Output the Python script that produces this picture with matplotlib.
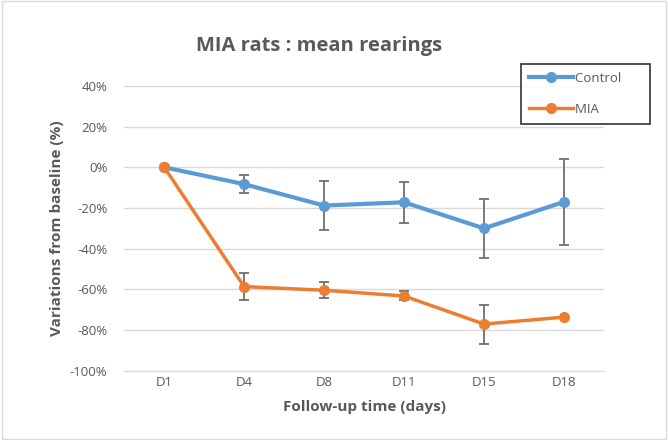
import matplotlib.pyplot as plt
from matplotlib.patches import Rectangle

days = ["D1", "D4", "D8", "D11", "D15", "D18"]
control = [0, -8.3, -18.8, -17.2, -30.0, -17.0]
control_err = [0, 4.5, 12.0, 10.0, 14.5, 21.3]
mia = [0, -58.6, -60.4, -63.2, -77.0, -73.6]
mia_err = [0, 6.8, 4.0, 2.2, 9.6, 0]
series_names = ["Control", "MIA"]

plt.rcParams['font.family'] = ['Open Sans', 'DejaVu Sans']
grey = "#595959"

fig = plt.figure(figsize=(6.68, 4.4), dpi=100)
ax = fig.add_axes([0.186, 0.157, 0.718, 0.648])
x = range(len(days))

c = ax.errorbar(x, control, yerr=control_err, color="#5b9bd5", lw=3, marker="o", ms=7,
                ecolor="#6f6f6f", elinewidth=1.3, capsize=3.5, capthick=1.3, zorder=3)
m = ax.errorbar(x, mia, yerr=mia_err, color="#ed7d31", lw=2.5, marker="o", ms=7,
                ecolor="#6f6f6f", elinewidth=1.3, capsize=3.5, capthick=1.3, zorder=3)

ax.set_xlim(-0.5, len(days) - 0.5)
ax.set_ylim(-100, 40)
ax.set_yticks(range(-100, 41, 20))
ax.set_yticklabels([f"{v}%" for v in range(-100, 41, 20)])
ax.set_xticks(list(x))
ax.set_xticklabels(days)
ax.grid(axis="y", color="#d9d9d9", lw=1)
ax.set_axisbelow(True)
for s in ["top", "right", "left"]:
    ax.spines[s].set_visible(False)
ax.spines["bottom"].set_color("#d9d9d9")
ax.tick_params(length=0, colors=grey, labelsize=9.5)
ax.tick_params(axis="y", pad=12)

ax.set_ylabel("Variations from baseline (%)", fontsize=11, fontweight="bold", color=grey)
ax.set_xlabel("Follow-up time (days)", fontsize=11, fontweight="bold", color=grey, labelpad=8)
fig.text(0.478, 0.895, "MIA rats : mean rearings", fontsize=14.5, fontweight="bold",
         color=grey, ha="center", va="center")

# pad the labels so the box is as wide as the Excel one
labels = [n + "      " for n in series_names]
leg = fig.legend([c[0], m[0]], labels, loc="upper left", bbox_to_anchor=(514 / 668, 1 - 57 / 440),
                 frameon=True, fancybox=False, edgecolor="black", fontsize=9.5,
                 labelspacing=1.4, handlelength=3.4, borderpad=0.6, handletextpad=0.1)
leg.get_frame().set_linewidth(1.2)
for t in leg.get_texts():
    t.set_color(grey)

fig.patches.append(Rectangle((0.003, 0.003), 0.994, 0.994, transform=fig.transFigure,
                             fill=False, edgecolor="#d9d9d9", lw=1))

fig.savefig("out.png", dpi=100)
